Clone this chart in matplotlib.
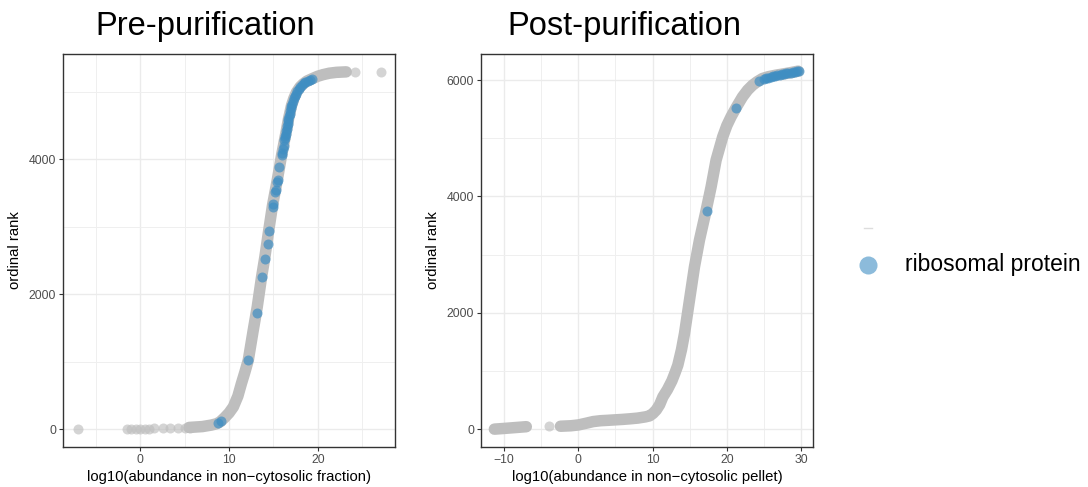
import matplotlib
matplotlib.use("Agg")
import matplotlib.pyplot as plt
from matplotlib.lines import Line2D

plt.rcParams['font.family'] = ['Liberation Sans', 'DejaVu Sans']

# ---------------- data ----------------
# Pre-purification: dense grey curve (log10 abundance, ordinal rank)
pre_curve_x = [5.5, 7.0, 8.0, 8.6, 9.0, 9.5, 10.0, 10.49, 11.0, 11.4, 11.8, 12.17,
               12.73, 13.18, 13.67, 14.04, 14.42, 14.9, 15.43, 15.92, 16.2, 16.45,
               16.7, 17.04, 17.3, 17.6, 18.0, 18.35, 18.8, 19.3, 20.0, 20.6, 21.3,
               22.1, 23.2]
pre_curve_rank = [25, 38, 60, 80, 108, 170, 240, 330, 490, 677, 850, 1022,
                  1467, 1812, 2257, 2553, 2899, 3318, 3689, 4060, 4250, 4420,
                  4600, 4800, 4905, 4997, 5075, 5121, 5165, 5195, 5235, 5259, 5280,
                  5293, 5300]
# Pre-purification: sparse grey points in the tails
pre_sparse_x = [-7.0, -1.5, -1.0, -0.5, 0.0, 0.5, 1.0, 1.5, 2.6, 3.4, 4.2, 5.0, 5.6, 24.2, 27.1]
pre_sparse_rank = [0, 2, 3, 4, 5, 6, 8, 10, 12, 14, 16, 19, 22, 5301, 5302]
# Pre-purification: ribosomal proteins
pre_ribo_x = [8.8, 9.1, 12.17, 13.1, 13.7, 14.04, 14.34, 14.49, 14.95, 15.0, 15.17, 15.25,
              15.43, 15.5, 15.67, 15.92, 16.0, 16.1, 16.17,
              16.25, 16.3, 16.35, 16.4, 16.45, 16.5, 16.55, 16.6, 16.65, 16.7, 16.76,
              16.82, 16.88, 16.95, 17.02, 17.1, 17.2, 17.3, 17.42, 17.55, 17.7, 17.85,
              18.0, 18.2, 18.4, 18.6, 18.85, 19.1, 19.35]
pre_ribo_rank = [95, 115, 1022, 1723, 2257, 2518, 2750, 2938, 3300, 3335, 3516, 3550,
                 3664, 3700, 3886, 4060, 4100, 4160, 4200,
                 4290, 4320, 4350, 4385, 4420, 4455, 4490, 4530, 4565, 4600, 4640,
                 4680, 4720, 4760, 4795, 4830, 4870, 4905, 4940, 4975, 5010, 5045,
                 5075, 5105, 5130, 5150, 5170, 5185, 5195]

# Post-purification: dense grey curve, low cluster and main curve
post_low_x = [-11.3, -10.0, -9.0, -8.0, -7.0]
post_low_rank = [0, 12, 22, 32, 42]
post_curve_x = [-2.4, -1.0, 0.0, 1.0, 2.0, 3.0, 4.0, 5.0, 6.0, 7.0, 8.0, 9.0, 9.6,
                10.05, 10.5, 10.95, 11.39, 12.0, 12.6, 13.0, 13.4, 13.9, 14.3, 14.97,
                15.64, 16.31, 17.12, 17.88, 18.55, 19.44, 20.0, 20.56, 21.3, 22.1,
                22.8, 23.46, 24.1, 24.8, 25.6, 26.6, 27.5, 28.4, 29.6]
post_curve_rank = [50, 58, 72, 100, 130, 145, 152, 160, 168, 178, 190, 210, 228,
                   270, 330, 420, 555, 680, 830, 960, 1100, 1370, 1645, 2218,
                   2790, 3249, 3708, 4165, 4624, 5025, 5220, 5369, 5540, 5712,
                   5830, 5914, 5975, 6029, 6060, 6086, 6105, 6125, 6155]
post_sparse_x = [-3.9]
post_sparse_rank = [46]
post_ribo_x = [17.3, 21.3, 24.3, 25.0, 25.3, 25.6, 25.9, 26.2, 26.5, 26.8, 27.1, 27.4,
               27.7, 28.0, 28.3, 28.6, 28.9, 29.2, 29.5, 29.7]
post_ribo_rank = [3748, 5524, 5982, 6025, 6035, 6045, 6055, 6065, 6075, 6085, 6092, 6100,
                  6108, 6115, 6122, 6130, 6138, 6146, 6154, 6160]

titles = ["Pre-purification", "Post-purification"]
xlabels = ["log10(abundance in non\u2212cytosolic fraction)",
           "log10(abundance in non\u2212cytosolic pellet)"]
ylabel = "ordinal rank"
legend_label = "ribosomal protein"

# ---------------- styling ----------------
GREY = "#BEBEBE"
BLUE = "#3F8EC3"
DPI = 100
msize = 10 * 72 / DPI
band = 11.5 * 72 / DPI

fig = plt.figure(figsize=(10.88, 4.87), dpi=DPI)
W, H = 1088, 487


def make_ax(x0):
    return fig.add_axes([x0 / W, (H - 447) / H, 332 / W, 393 / H])


def style(ax, xmajor, xminor, ymajor, yminor, xlim, ylim):
    ax.set_xlim(*xlim)
    ax.set_ylim(*ylim)
    ax.set_xticks(xmajor)
    ax.set_xticks(xminor, minor=True)
    ax.set_yticks(ymajor)
    ax.set_yticks(yminor, minor=True)
    ax.set_xticklabels(["\u2212%d" % -v if v < 0 else "%d" % v for v in xmajor])
    ax.grid(True, which='major', color='#EBEBEB', lw=1.0, zorder=0)
    ax.grid(True, which='minor', color='#EFEFEF', lw=0.7, zorder=0)
    ax.set_axisbelow(True)
    for s in ax.spines.values():
        s.set_color('#333333')
        s.set_linewidth(1.0)
    ax.tick_params(which='major', length=3, width=0.8, color='#333333',
                   labelsize=8.8, labelcolor='#4D4D4D', pad=2)
    ax.tick_params(which='minor', length=0)


def draw_curve(ax, x, y):
    ax.plot(x, y, color=GREY, lw=band, solid_capstyle='round',
            solid_joinstyle='round', zorder=2)


# left panel
ax1 = make_ax(63)
draw_curve(ax1, pre_curve_x, pre_curve_rank)
ax1.plot(pre_sparse_x, pre_sparse_rank, 'o', color=GREY, alpha=0.65, ms=msize,
         mec='none', zorder=2)
ax1.plot(pre_ribo_x, pre_ribo_rank, 'o', color=BLUE, alpha=0.7, ms=msize,
         mec='none', zorder=3)
style(ax1, [0, 10, 20], [-5, 5, 15, 25], [0, 2000, 4000], [1000, 3000, 5000],
      (-8.7, 28.7), (-265, 5565))

# right panel
ax2 = make_ax(481)
draw_curve(ax2, post_low_x, post_low_rank)
draw_curve(ax2, post_curve_x, post_curve_rank)
ax2.plot(post_sparse_x, post_sparse_rank, 'o', color=GREY, alpha=0.65, ms=msize,
         mec='none', zorder=2)
ax2.plot(post_ribo_x, post_ribo_rank, 'o', color=BLUE, alpha=0.7, ms=msize,
         mec='none', zorder=3)
style(ax2, [-10, 0, 10, 20, 30], [-5, 5, 15, 25], [0, 2000, 4000, 6000],
      [1000, 3000, 5000], (-13.1, 31.6), (-307, 6450))

for ax, xl in zip([ax1, ax2], xlabels):
    ax.set_xlabel(xl, fontsize=10.7, labelpad=3)
    ax.set_ylabel(ylabel, fontsize=10.7, labelpad=5)

# titles
fig.text(95 / W, (H - 35) / H, titles[0], fontsize=23.5, va='baseline', ha='left')
fig.text(507 / W, (H - 35) / H, titles[1], fontsize=23.5, va='baseline', ha='left')

# legend (manual)
fig.add_artist(Line2D([864 / W, 872 / W], [(H - 228) / H] * 2, color='#DDDDDD',
                      lw=1.0, transform=fig.transFigure))
fig.add_artist(Line2D([868 / W], [(H - 265) / H], marker='o', ls='', color=BLUE,
                      alpha=0.6, ms=13, mec='none', transform=fig.transFigure))
fig.text(905 / W, (H - 265) / H, legend_label, fontsize=16.5, va='center', ha='left')

fig.savefig("out.png", dpi=DPI)
